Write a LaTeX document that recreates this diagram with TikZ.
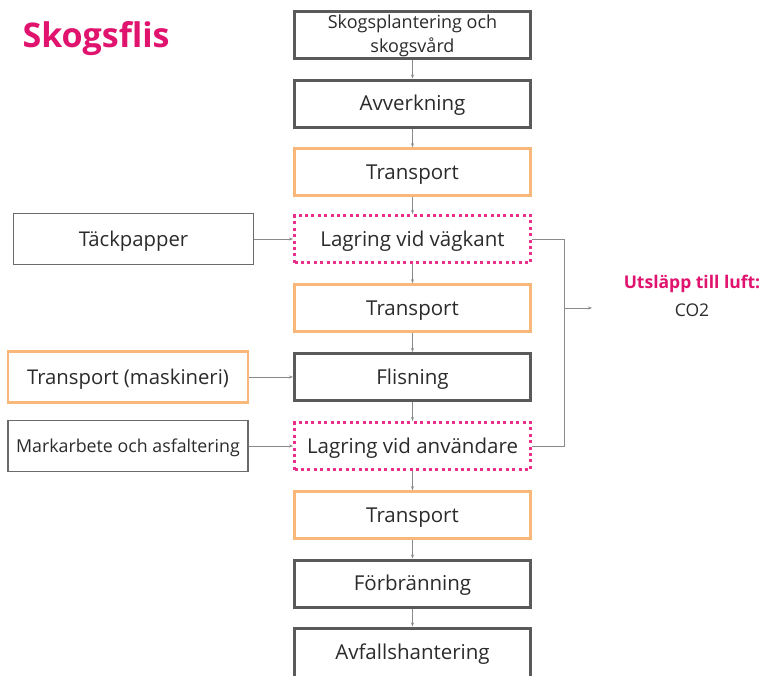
\documentclass[tikz,border=0pt]{standalone}
\usepackage{fontspec}
\setmainfont{Open Sans}
\usetikzlibrary{arrows.meta}
\definecolor{pinkc}{HTML}{E0146F}
\definecolor{dotc}{HTML}{E8308A}
\definecolor{orangec}{HTML}{F9B77A}
\definecolor{darkc}{HTML}{5A5A5A}
\definecolor{thinc}{HTML}{6A6A6A}
\definecolor{txtc}{HTML}{2B2B2B}
\definecolor{linec}{HTML}{8A8A8A}
\tikzset{
  basebox/.style={draw=darkc, line width=3pt, minimum width=236pt, minimum height=47pt, inner sep=0pt, align=center, text=txtc, font=\fontsize{20.5}{24}\selectfont},
  mainbox/.style={basebox, text height=14.8pt, text depth=0pt},
  orbox/.style={mainbox, draw=orangec, line width=2.5pt},
  dotbox/.style={mainbox, draw=dotc, line width=3pt, dash pattern=on 3pt off 3.4pt},
  sidebox/.style={draw=thinc, line width=1.2pt, minimum width=240pt, minimum height=51pt, inner sep=0pt, text=txtc, font=\fontsize{20.3}{24}\selectfont, text height=14.5pt, text depth=0pt},
  sideor/.style={sidebox, draw=orangec, line width=2.2pt},
  conn/.style={draw=linec, line width=0.7pt},
  arr/.style={conn, -{Stealth[length=4pt,width=3pt]}}
}
\begin{document}
\begin{tikzpicture}[x=1pt,y=-1pt]
\useasboundingbox (0,0) rectangle (763,675);
\clip (0,0) rectangle (763,675);
\fill[white] (0,0) rectangle (763,675);
\node[anchor=base west, text=pinkc, font=\fontsize{34}{38}\selectfont\bfseries] (title) at (19,47) {Skogsflis};

\node[basebox, font=\fontsize{18}{23.5}\selectfont, text depth=3pt] (b1) at (412.5,35) {Skogsplantering och\\skogsvård};
\node[mainbox] (b2) at (412.5,103.5) {Avverkning};
\node[orbox] (b3) at (412.5,172) {Transport};
\node[dotbox] (b4) at (412.5,239) {Lagring vid vägkant};
\node[orbox] (b5) at (412.5,308) {Transport};
\node[mainbox] (b6) at (412.5,377) {Flisning};
\node[dotbox] (b7) at (412.5,446) {Lagring vid användare};
\node[orbox] (b8) at (412.5,515) {Transport};
\node[mainbox] (b9) at (412.5,583.5) {Förbränning};
\node[basebox, minimum height=62pt] (b10) at (412.5,659) {\raisebox{-0.5pt}[0pt][0pt]{Avfallshantering}};

\node[sidebox] (s1) at (133.5,239) {Täckpapper};
\node[sideor] (s2) at (128,377) {Transport (maskineri)};
\node[sidebox, font=\fontsize{17.8}{22}\selectfont, text height=12.8pt] (s3) at (128,446) {Markarbete och asfaltering};

\foreach \a/\b in {b1/b2,b2/b3,b3/b4,b4/b5,b5/b6,b6/b7,b7/b8,b8/b9,b9/b10}
  \draw[arr] (\a.south) -- (\b.north);
\draw[arr] (s1.east) -- (b4.west);
\draw[arr] (s2.east) -- (b6.west);
\draw[arr] (s3.east) -- (b7.west);

\coordinate (j) at (564,308);
\coordinate (e) at (592,308);
\draw[conn] (b4.east) -| (j);
\draw[conn] (b7.east) -| (j);
\draw[arr] (j) -- (e);

\node[text=pinkc, font=\fontsize{17.5}{22}\selectfont\bfseries] (u1) at (692,284) {Utsläpp till luft:};
\node[text=txtc, font=\fontsize{17.5}{22}\selectfont] (u2) at (692,310) {CO2};
\end{tikzpicture}
\end{document}
